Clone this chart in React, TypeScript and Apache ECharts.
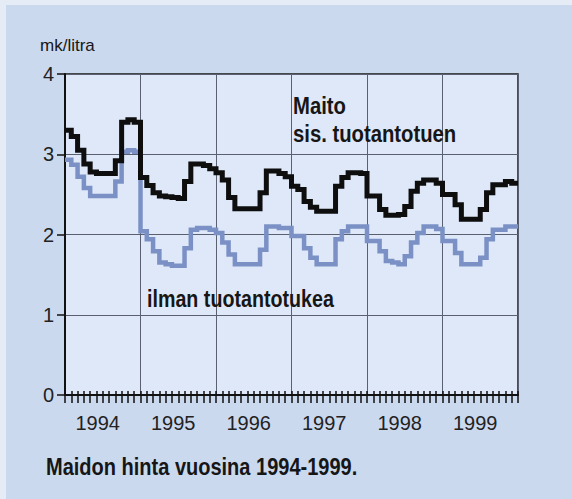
import React, { useEffect, useRef } from 'react';
import * as echarts from 'echarts';

const years = ['1994', '1995', '1996', '1997', '1998', '1999'];

// Monthly prices, mk/litra, Jan 1994 – Dec 1999
const maitoSisTuotantotuen = [
  3.30, 3.22, 3.05, 2.88, 2.78, 2.76, 2.76, 2.76, 2.92, 3.40, 3.43, 3.40,
  2.71, 2.61, 2.52, 2.48, 2.47, 2.46, 2.45, 2.66, 2.88, 2.88, 2.86, 2.82,
  2.77, 2.68, 2.46, 2.32, 2.32, 2.32, 2.32, 2.52, 2.79, 2.79, 2.76, 2.72,
  2.60, 2.56, 2.41, 2.34, 2.29, 2.29, 2.29, 2.60, 2.71, 2.77, 2.77, 2.76,
  2.48, 2.48, 2.31, 2.24, 2.24, 2.25, 2.35, 2.54, 2.64, 2.68, 2.68, 2.64,
  2.50, 2.50, 2.37, 2.19, 2.19, 2.19, 2.31, 2.52, 2.62, 2.62, 2.66, 2.64,
];

const ilmanTuotantotukea = [
  2.93, 2.87, 2.72, 2.58, 2.48, 2.48, 2.48, 2.48, 2.66, 3.03, 3.05, 3.03,
  2.04, 1.94, 1.79, 1.65, 1.63, 1.61, 1.61, 1.83, 2.06, 2.08, 2.08, 2.06,
  2.02, 1.90, 1.75, 1.63, 1.63, 1.63, 1.63, 1.81, 2.10, 2.10, 2.08, 2.08,
  1.98, 1.98, 1.83, 1.71, 1.63, 1.63, 1.63, 1.94, 2.04, 2.10, 2.10, 2.10,
  1.92, 1.92, 1.79, 1.67, 1.65, 1.63, 1.73, 1.90, 2.02, 2.10, 2.10, 2.07,
  1.92, 1.92, 1.77, 1.63, 1.63, 1.63, 1.71, 1.94, 2.06, 2.06, 2.10, 2.10,
];

const yMin = 0;
const yMax = 4;
const yInterval = 1;

const NARROW = '"Liberation Sans Narrow", "Arial Narrow", "Liberation Sans", sans-serif';
const SANS = '"Liberation Sans", Arial, sans-serif';
const INK = '#161616';

function toSteps(values: number[]) {
  const pts: number[][] = values.map((v, i) => [i, v]);
  pts.push([values.length, values[values.length - 1]]);
  return pts;
}

export default function App() {
  const ref = useRef<HTMLDivElement>(null);

  useEffect(() => {
    if (!ref.current) return;
    const chart = echarts.init(ref.current, undefined, { renderer: 'svg' });
    const nMonths = maitoSisTuotantotuen.length;
    const tickColor = '#111';

    const label = (text: string, x: number, y: number, font: string, scaleX: number) => ({
      type: 'text',
      x,
      y,
      scaleX,
      z: 10,
      style: {
        text,
        font,
        fill: INK,
        textAlign: 'left',
        textVerticalAlign: 'middle',
        verticalAlign: 'middle',
      },
    });

    chart.setOption({
      animation: false,
      backgroundColor: 'transparent',
      grid: {
        left: 65,
        right: 54,
        top: 74,
        bottom: 104,
        show: true,
        backgroundColor: '#dee8f8',
        borderColor: '#1a1a1a',
        borderWidth: 1.5,
      },
      xAxis: [
        {
          type: 'value',
          min: 0,
          max: nMonths,
          interval: 12,
          position: 'bottom',
          axisLine: { show: true, onZero: false, lineStyle: { color: tickColor, width: 2 } },
          axisTick: { show: true, length: 8, lineStyle: { color: tickColor, width: 1.5 } },
          minorTick: { show: true, splitNumber: 12, length: 8, lineStyle: { color: tickColor, width: 1.5 } },
          axisLabel: { show: false },
          splitLine: { show: true, lineStyle: { color: '#5a6070', width: 1 } },
        },
        {
          type: 'value',
          min: 0,
          max: nMonths,
          interval: 12,
          position: 'bottom',
          axisLine: { show: false },
          axisTick: { show: true, inside: true, length: 4, lineStyle: { color: tickColor, width: 1.5 } },
          minorTick: { show: true, splitNumber: 12, length: 4, lineStyle: { color: tickColor, width: 1.5 } },
          axisLabel: { show: false },
          splitLine: { show: false },
        },
        {
          type: 'category',
          data: years,
          position: 'bottom',
          boundaryGap: true,
          axisLine: { show: false },
          axisTick: { show: false },
          splitLine: { show: false },
          axisLabel: {
            fontSize: 20,
            fontFamily: NARROW,
            color: '#222',
            margin: 18,
            padding: [0, 10, 0, 0],
          },
        },
      ],
      yAxis: {
        type: 'value',
        min: yMin,
        max: yMax,
        interval: yInterval,
        axisLine: { show: true, lineStyle: { color: tickColor, width: 2 } },
        axisTick: { show: true, length: 8, lineStyle: { color: tickColor, width: 1.5 } },
        axisLabel: { fontSize: 20, fontFamily: SANS, color: '#222', margin: 11, padding: [5, 0, 0, 0] },
        splitLine: { show: true, lineStyle: { color: '#5a6070', width: 1 } },
      },
      series: [
        {
          name: 'ilman tuotantotukea',
          type: 'line',
          xAxisIndex: 0,
          data: toSteps(ilmanTuotantotukea),
          step: 'end',
          symbol: 'none',
          lineStyle: { color: '#7b91c6', width: 4.5, cap: 'butt', join: 'miter' },
          z: 3,
        },
        {
          name: 'Maito sis. tuotantotuen',
          type: 'line',
          xAxisIndex: 0,
          data: toSteps(maitoSisTuotantotuen),
          step: 'end',
          symbol: 'none',
          lineStyle: { color: '#0e0e0e', width: 5, cap: 'butt', join: 'miter' },
          z: 4,
        },
      ],
      graphic: [
        label('mk/litra', 40, 45.5, `normal 17px ${SANS}`, 1),
        label('Maito', 293, 106, `bold 24px ${SANS}`, 0.845),
        label('sis. tuotantotuen', 293, 134, `bold 24px ${SANS}`, 0.845),
        label('ilman tuotantotukea', 147, 298.5, `bold 24px ${SANS}`, 0.82),
        label('Maidon hinta vuosina 1994-1999.', 46, 466.5, `bold 23px ${SANS}`, 0.87),
      ],
    });

    return () => chart.dispose();
  }, []);

  return (
    <div
      style={{
        position: 'fixed',
        left: 0,
        top: 0,
        width: 572,
        height: 499,
        background: '#cbd9ef',
        boxSizing: 'border-box',
        borderTop: '5px solid #e6ecf5',
        borderLeft: '6px solid #e6ecf5',
      }}
    >
      <div ref={ref} style={{ position: 'absolute', left: -6, top: -5, width: 572, height: 499 }} />
    </div>
  );
}
